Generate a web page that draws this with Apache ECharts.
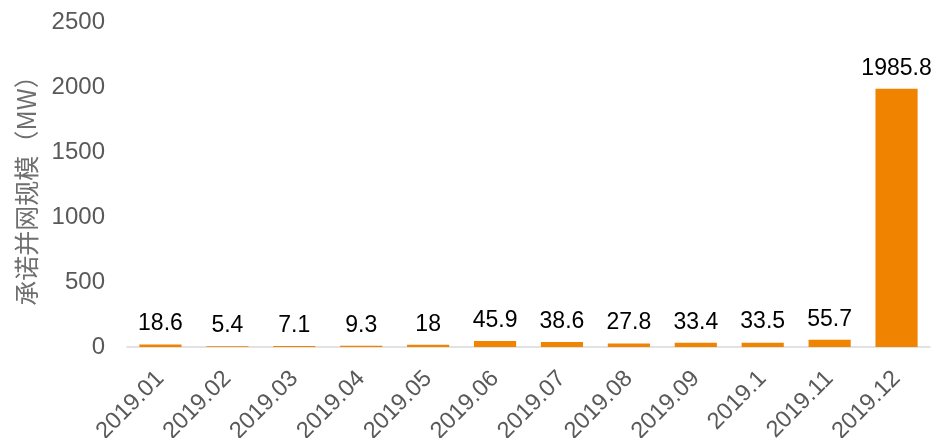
<!DOCTYPE html>
<html><head><meta charset="utf-8">
<script src="https://cdn.jsdelivr.net/npm/echarts@6/dist/echarts.min.js"></script>
<style>html,body{margin:0;padding:0;background:#fff}#c{width:944px;height:438px}</style>
</head><body><div id="c"></div>
<script>
const categories = ['2019.01','2019.02','2019.03','2019.04','2019.05','2019.06','2019.07','2019.08','2019.09','2019.1','2019.11','2019.12'];
const values = [18.6, 5.4, 7.1, 9.3, 18, 45.9, 38.6, 27.8, 33.4, 33.5, 55.7, 1985.8];
const yTicks = {min: 0, max: 2500, interval: 500};
const yName = '承诺并网规模（MW）';

const font = 'Liberation Sans, Arial, "Noto Sans CJK SC", sans-serif';
const chart = echarts.init(document.getElementById('c'));
chart.setOption({
  animation: false,
  grid: {left: 127, right: 14, top: 22, bottom: 91, containLabel: false, outerBoundsMode: 'none'},
  xAxis: {
    type: 'category', data: categories,
    axisLine: {lineStyle: {color: '#d9d9d9', width: 1.5}},
    axisTick: {show: false},
    axisLabel: {rotate: 45, color: '#595959', fontSize: 23.5, fontFamily: font, margin: 28, interval: 0}
  },
  yAxis: {
    type: 'value', min: yTicks.min, max: yTicks.max, interval: yTicks.interval,
    name: yName, nameLocation: 'middle', nameRotate: 90, nameGap: 88,
    nameTextStyle: {color: '#6e6e6e', fontSize: 25, fontFamily: '"Noto Sans CJK SC", sans-serif'},
    axisLine: {show: false}, axisTick: {show: false}, splitLine: {show: false},
    axisLabel: {color: '#595959', fontSize: 24, fontFamily: font, margin: 22, formatter: v => String(v)}
  },
  series: [{
    type: 'bar', data: values, barWidth: '63%',
    itemStyle: {color: '#F08300'},
    label: {show: true, position: 'top', distance: 9, color: '#000', fontSize: 23, fontFamily: font}
  }]
});
</script></body></html>
